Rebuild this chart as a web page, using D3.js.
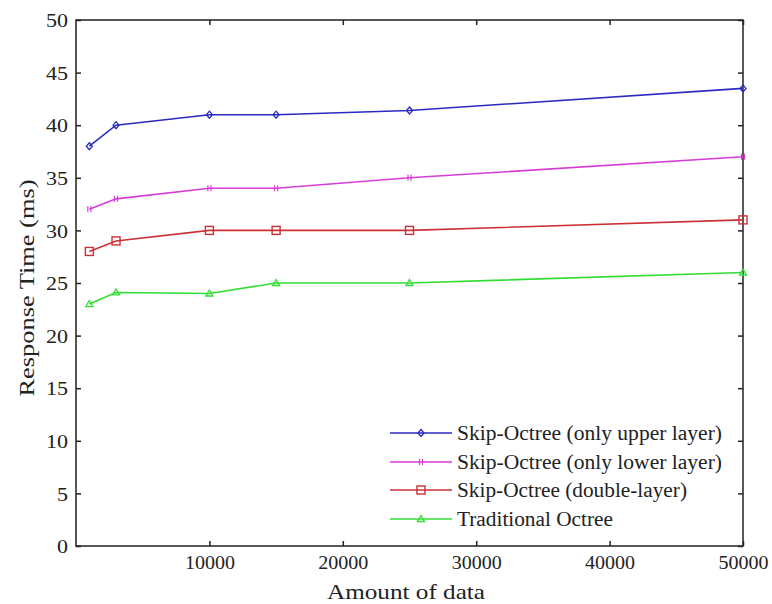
<!DOCTYPE html>
<html><head><meta charset="utf-8">
<script src="https://cdn.jsdelivr.net/npm/d3@7"></script>
<style>body{margin:0;background:#fff}svg{display:block}text{font-family:"Liberation Serif","Times New Roman",serif;fill:#222}</style>
</head><body><svg id="c" width="772" height="604"></svg>
<script>
const xValues = [1000, 3000, 10000, 15000, 25000, 50000];
const upperLayer = [38, 40, 41, 41, 41.4, 43.5];
const lowerLayer = [32, 33, 34, 34, 35, 37];
const doubleLayer = [28, 29, 30, 30, 30, 31];
const traditional = [23, 24.1, 24, 25, 25, 26];
const seriesNames = ["Skip-Octree (only upper layer)", "Skip-Octree (only lower layer)", "Skip-Octree (double-layer)", "Traditional Octree"];
const xTicks = [10000, 20000, 30000, 40000, 50000];
const yTicks = [0,5,10,15,20,25,30,35,40,45,50];

const series = [
  {name: seriesNames[0], values: upperLayer, color: "#2a2ac0", marker: "diamond"},
  {name: seriesNames[1], values: lowerLayer, color: "#d83cd8", marker: "cross"},
  {name: seriesNames[2], values: doubleLayer, color: "#cc3036", marker: "square"},
  {name: seriesNames[3], values: traditional, color: "#33dd33", marker: "triangle"}
];

const L = 76, R = 743, T = 20, B = 546;
const svg = d3.select("#c");
const x = d3.scaleLinear().domain([0, 50000]).range([L, R]);
const y = d3.scaleLinear().domain([0, 50]).range([B, T]);

const axisColor = "#222";
svg.append("rect").attr("x", L).attr("y", T).attr("width", R-L).attr("height", B-T)
  .attr("fill", "none").attr("stroke", axisColor).attr("stroke-width", 1.5);

const tl = 5;
const gx = svg.append("g").attr("transform", `translate(0,${B})`)
  .call(d3.axisBottom(x).tickValues(xTicks).tickSize(-tl).tickPadding(10).tickFormat(d3.format("d")));
const gxt = svg.append("g").attr("transform", `translate(0,${T})`)
  .call(d3.axisTop(x).tickValues(xTicks).tickSize(-tl).tickFormat(""));
const gy = svg.append("g").attr("transform", `translate(${L},0)`)
  .call(d3.axisLeft(y).tickValues(yTicks).tickSize(-tl).tickPadding(8));
const gyr = svg.append("g").attr("transform", `translate(${R},0)`)
  .call(d3.axisRight(y).tickValues(yTicks).tickSize(-tl).tickFormat(""));
[gx, gxt, gy, gyr].forEach(g => {
  g.select(".domain").remove();
  g.selectAll(".tick line").attr("stroke", axisColor).attr("stroke-width", 1.5);
  g.selectAll("text").attr("font-size", 19).attr("fill", "#222").style("font-family", '"Liberation Serif", serif');
});
gx.selectAll("text").attr("dy", "0.71em").attr("textLength", 50).attr("lengthAdjust", "spacingAndGlyphs");
gy.selectAll("text").attr("dy", "0.35em").each(function(d) {
  d3.select(this).attr("textLength", d >= 10 ? 22 : 11).attr("lengthAdjust", "spacingAndGlyphs");
});

svg.append("text").attr("x", 406).attr("y", 599).attr("text-anchor", "middle")
  .attr("font-size", 22).attr("textLength", 158).attr("lengthAdjust", "spacingAndGlyphs").text("Amount of data");
svg.append("text").attr("transform", "translate(34,288) rotate(-90)").attr("text-anchor", "middle")
  .attr("font-size", 22).attr("textLength", 217).attr("lengthAdjust", "spacingAndGlyphs").text("Response Time (ms)");

const line = d3.line().x((d, i) => x(xValues[i])).y(d => y(d));

function drawMarker(g, type, cx, cy, color) {
  if (type === "diamond") {
    g.append("path").attr("d", `M${cx},${cy-3.5}L${cx+3},${cy}L${cx},${cy+3.5}L${cx-3},${cy}Z`)
      .attr("fill", "none").attr("stroke", color).attr("stroke-width", 1.3);
  } else if (type === "cross") {
    g.append("path").attr("d", `M${cx-1.5},${cy-3}L${cx-1.5},${cy+3}M${cx+1.5},${cy-3}L${cx+1.5},${cy+3}`)
      .attr("stroke", color).attr("stroke-width", 1.2);
  } else if (type === "square") {
    g.append("rect").attr("x", cx-4).attr("y", cy-4).attr("width", 8).attr("height", 8)
      .attr("fill", "none").attr("stroke", color).attr("stroke-width", 1.4);
  } else if (type === "triangle") {
    g.append("path").attr("d", `M${cx},${cy-3.5}L${cx+3.5},${cy+2.5}L${cx-3.5},${cy+2.5}Z`)
      .attr("fill", "none").attr("stroke", color).attr("stroke-width", 1.3);
  }
}

series.forEach(s => {
  const g = svg.append("g");
  g.append("path").datum(s.values).attr("d", line).attr("fill", "none")
    .attr("stroke", s.color).attr("stroke-width", 1.6);
  s.values.forEach((v, i) => drawMarker(g, s.marker, x(xValues[i]), y(v), s.color));
});

const lg = svg.append("g");
const rowY = [433, 462, 490, 519];
const legendWidths = [265, 265, 230, 156];
series.forEach((s, i) => {
  const yy = rowY[i];
  lg.append("line").attr("x1", 390).attr("x2", 452).attr("y1", yy).attr("y2", yy)
    .attr("stroke", s.color).attr("stroke-width", 1.6);
  drawMarker(lg, s.marker, 421, yy, s.color);
  lg.append("text").attr("x", 457).attr("y", yy).attr("dy", "0.35em").attr("font-size", 20)
    .attr("textLength", legendWidths[i]).attr("lengthAdjust", "spacingAndGlyphs").text(s.name);
});
</script></body></html>
